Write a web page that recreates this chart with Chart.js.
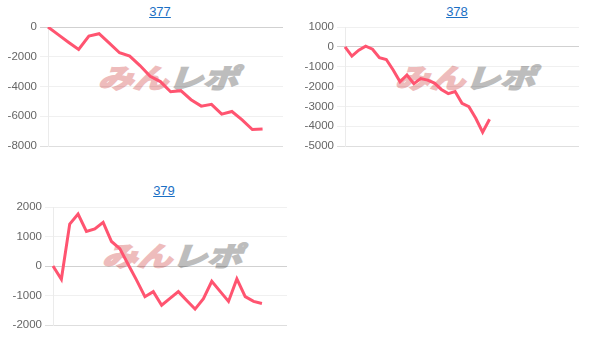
<!DOCTYPE html>
<html><head><meta charset="utf-8">
<script src="https://cdn.jsdelivr.net/npm/chart.js@4.4.0/dist/chart.umd.min.js"></script>
<style>
html,body{margin:0;padding:0;background:#fff}
body{width:610px;height:343px;overflow:hidden;position:relative;font-family:"Liberation Sans",Arial,sans-serif}
.t{position:absolute;font-size:13px;line-height:15px;text-align:center;width:100px}
.t a{color:#1a6fc4;text-decoration:underline}
canvas{position:absolute}
.wm{position:absolute;width:144px;height:36px;font-family:"Noto Sans CJK JP",sans-serif;font-weight:700;font-size:35px;line-height:36px;white-space:nowrap;transform:skewX(-20deg) scaleY(0.76);transform-origin:50% 50%}
.wm .r{color:#eebcbc;-webkit-text-stroke:2.5px #eebcbc}
.wm .g{color:#bdbdbd;-webkit-text-stroke:2.5px #bdbdbd}
</style>
</head><body>
<div class="t" style="left:110px;top:4px"><a href="#">377</a></div>
<div class="t" style="left:407px;top:4px"><a href="#">378</a></div>
<div class="t" style="left:114px;top:183px"><a href="#">379</a></div>
<div class="wm" style="left:102px;top:59px"><span class="r">みん</span><span class="g">レポ</span></div>
<div class="wm" style="left:399px;top:59px"><span class="r">みん</span><span class="g">レポ</span></div>
<div class="wm" style="left:106px;top:237px"><span class="r">みん</span><span class="g">レポ</span></div>
<canvas id="c377" width="283" height="139" style="left:0px;top:17px;width:283px;height:139px"></canvas>
<canvas id="c378" width="279" height="139" style="left:300px;top:17px;width:279px;height:139px"></canvas>
<canvas id="c379" width="287" height="138" style="left:0px;top:197px;width:287px;height:138px"></canvas>
<script>
const cats377 = ["1","2","3","4","5","6","7","8","9","10","11","12","13","14","15","16","17","18","19","20","21","22","23","24"];
const vals377 = [0,-510,-1020,-1510,-610,-450,-1080,-1730,-1960,-2590,-3310,-3670,-4350,-4280,-4890,-5320,-5200,-5860,-5680,-6240,-6890,-6850];
const ticks377 = [0,-2000,-4000,-6000,-8000];

const cats378 = ["1","2","3","4","5","6","7","8","9","10","11","12","13","14","15","16","17","18","19","20","21","22","23","24","25","26","27","28","29","30","31","32","33","34","35"];
const vals378 = [0,-470,-170,30,-120,-550,-640,-1170,-1760,-1420,-1860,-1600,-1680,-1830,-2150,-2360,-2250,-2850,-3020,-3600,-4300,-3650];
const ticks378 = [1000,0,-1000,-2000,-3000,-4000,-5000];

const cats379 = ["1","2","3","4","5","6","7","8","9","10","11","12","13","14","15","16","17","18","19","20","21","22","23","24","25","26","27","28","29"];
const vals379 = [0,-450,1420,1760,1170,1260,1480,830,590,50,-480,-1040,-870,-1330,-1100,-870,-1170,-1460,-1110,-520,-860,-1200,-440,-1040,-1200,-1270];
const ticks379 = [2000,1000,0,-1000,-2000];

function draw(id, cats, vals, ticks, axisW) {
  const lo = Math.min(...ticks), hi = Math.max(...ticks);
  const sorted = ticks.slice().sort((a,b)=>a-b);
  new Chart(document.getElementById(id), {
    type: 'line',
    data: { labels: cats, datasets: [{ data: vals, borderColor: '#ff5470', borderWidth: 3, pointRadius: 0, tension: 0, fill: false }] },
    options: {
      responsive: false, animation: false, events: [],
      plugins: { legend: { display: false }, tooltip: { enabled: false } },
      layout: { padding: { top: 10, bottom: 10, left: 0, right: 0 } },
      scales: {
        x: { display: false },
        y: {
          min: lo, max: hi,
          afterFit: s => { s.width = axisW; },
          afterBuildTicks: s => { s.ticks = sorted.map(v => ({ value: v })); },
          ticks: { color: '#666', padding: 3, callback: v => String(v), font: { family: '"Liberation Sans", Arial, sans-serif', size: 11.5 } },
          grid: {
            drawTicks: true, tickLength: 8,
            color: ctx => (ctx.tick && ctx.tick.value === 0) ? 'rgba(0,0,0,0.18)' : (ctx.tick && ctx.tick.value === lo ? 'rgba(0,0,0,0.13)' : 'rgba(0,0,0,0.06)')
          },
          border: { display: true, color: 'rgba(0,0,0,0.08)' }
        }
      }
    }
  });
}
draw('c377', cats377, vals377, ticks377, 48);
draw('c378', cats378, vals378, ticks378, 45);
draw('c379', cats379, vals379, ticks379, 53);
</script>
</body></html>
